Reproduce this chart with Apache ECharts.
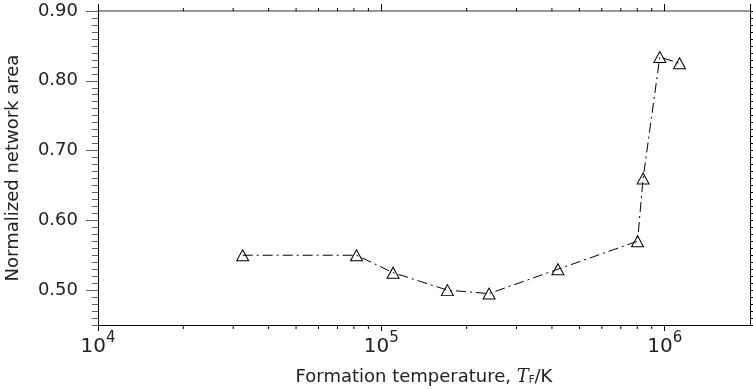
<!DOCTYPE html>
<html>
<head>
<meta charset="utf-8">
<script src="https://cdn.jsdelivr.net/npm/echarts@6/dist/echarts.min.js"></script>
<style>
  html, body { margin: 0; padding: 0; background: #fff; }
  #chart { width: 753px; height: 389px; }
</style>
</head>
<body>
<div id="chart"></div>
<script>
// formation temperature (K) and normalized network area
const temps = [32400, 81700, 110000, 171000, 240000, 420000, 802000, 839000, 961000, 1128000];
const areas = [0.550, 0.550, 0.525, 0.500, 0.495, 0.530, 0.570, 0.660, 0.834, 0.825];

// axis ticks
const yMajor = [0.5, 0.6, 0.7, 0.8, 0.9];
const xMinor = [2e4, 3e4, 4e4, 5e4, 6e4, 7e4, 8e4, 9e4,
                2e5, 3e5, 4e5, 5e5, 6e5, 7e5, 8e5, 9e5];

const FONT = "DejaVu Sans";
const INK = "#222";

const chart = echarts.init(document.getElementById("chart"));

const xBase = {
  type: "log",
  logBase: 10,
  min: 1e4,
  max: 2e6,
  splitLine: { show: false },
  axisLine: { show: true, lineStyle: { color: "#000", width: 1 } },
};

const yBase = {
  type: "value",
  min: 0.45,
  max: 0.9,
  splitLine: { show: false },
};

const option = {
  animation: false,
  backgroundColor: "#fff",
  grid: { left: 98, right: 3, top: 11, bottom: 64, containLabel: false, outerBoundsMode: "none" },
  xAxis: [
    {
      ...xBase,
      position: "bottom",
      axisTick: { show: true, inside: false, length: 6, lineStyle: { color: "#000" } },
      axisLabel: {
        margin: 6,
        showMaxLabel: false,
        formatter: (v) => {
          const p = Math.round(Math.log10(v));
          if (Math.abs(v - Math.pow(10, p)) > 1e-6 * v) return "";
          return "{b|10}{s|" + p + "}";
        },
        rich: {
          b: { fontFamily: FONT, fontSize: 20, color: INK, lineHeight: 26, verticalAlign: "bottom" },
          s: { fontFamily: FONT, fontSize: 15, color: INK, lineHeight: 26, verticalAlign: "top", padding: [0, 0, 10, 0] },
        },
      },
      name: "Formation temperature, {i|T}{f|F}/K",
      nameLocation: "middle",
      nameGap: 43,
      nameTextStyle: {
        fontFamily: FONT,
        fontSize: 18,
        color: INK,
        rich: {
          i: { fontFamily: "DejaVu Serif", fontStyle: "italic", fontSize: 18, color: INK },
          f: { fontFamily: FONT, fontSize: 10, color: INK, padding: [7, 0, 0, 0] },
        },
      },
    },
    {
      ...xBase,
      position: "top",
      axisLine: { show: true, lineStyle: { color: "#777", width: 1.5 } },
      axisTick: { show: true, inside: false, length: 7, lineStyle: { color: "#000" } },
      axisLabel: { show: false },
    },
  ],
  yAxis: [
    {
      ...yBase,
      position: "left",
      axisLine: { show: true, lineStyle: { color: "#000", width: 1 } },
      axisTick: { show: true, inside: false, length: 12, customValues: yMajor, lineStyle: { color: "#666" } },
      axisLabel: {
        customValues: yMajor,
        margin: 20,
        fontFamily: FONT,
        fontSize: 18,
        color: INK,
        formatter: (v) => v.toFixed(2),
      },
      name: "Normalized network area",
      nameLocation: "middle",
      nameGap: 76,
      nameRotate: 90,
      nameTextStyle: { fontFamily: FONT, fontSize: 18, color: INK },
    },
    {
      ...yBase,
      position: "left",
      interval: 0.01,
      axisLine: { show: false },
      axisTick: { show: true, inside: false, length: 6, lineStyle: { color: "#666" } },
      axisLabel: { show: false },
    },
    {
      ...yBase,
      position: "right",
      interval: 0.01,
      axisLine: { show: true, lineStyle: { color: "#000", width: 1 } },
      axisTick: { show: true, inside: false, length: 4, lineStyle: { color: "#000" } },
      axisLabel: { show: false },
    },
  ],
  series: [
    {
      // minor ticks on the log x axis (bottom and top)
      type: "custom",
      xAxisIndex: 0,
      yAxisIndex: 0,
      silent: true,
      clip: false,
      data: xMinor.map((v) => [v]),
      renderItem: (params, api) => {
        const v = api.value(0);
        const lo = api.coord([v, 0.45]);
        const hi = api.coord([v, 0.9]);
        return {
          type: "group",
          children: [
            { type: "line", shape: { x1: lo[0], y1: lo[1], x2: lo[0], y2: lo[1] + 4 }, style: { stroke: "#000", lineWidth: 1 } },
            { type: "line", shape: { x1: hi[0], y1: hi[1], x2: hi[0], y2: hi[1] - 3 }, style: { stroke: "#000", lineWidth: 1 } },
          ],
        };
      },
    },
    {
      type: "line",
      xAxisIndex: 0,
      yAxisIndex: 0,
      data: temps.map((t, i) => [t, areas[i]]),
      symbol: "triangle",
      symbolSize: [12, 11],
      showAllSymbol: true,
      lineStyle: { color: "#000", width: 1, type: [10, 4, 2, 4] },
      itemStyle: { color: "transparent", borderColor: "#000", borderWidth: 1 },
      emphasis: { disabled: true },
    },
  ],
};

chart.setOption(option);
</script>
</body>
</html>
